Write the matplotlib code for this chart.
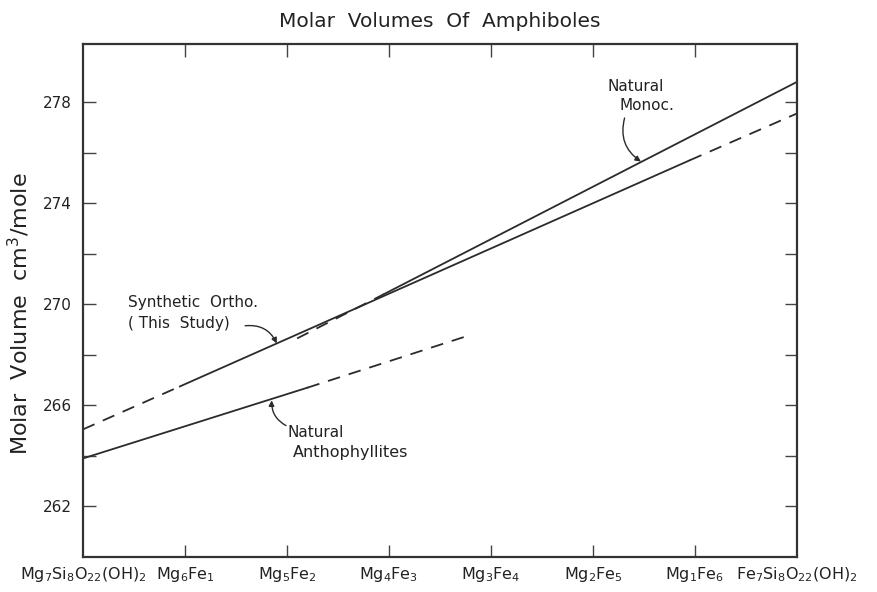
import matplotlib
matplotlib.use("Agg")
import matplotlib.pyplot as plt

# ---- data ----
composition = [0, 1, 2, 3, 4, 5, 6, 7]
xtick_labels = [r'Mg$_7$Si$_8$O$_{22}$(OH)$_2$', r'Mg$_6$Fe$_1$', r'Mg$_5$Fe$_2$',
                r'Mg$_4$Fe$_3$', r'Mg$_3$Fe$_4$', r'Mg$_2$Fe$_5$', r'Mg$_1$Fe$_6$',
                r'Fe$_7$Si$_8$O$_{22}$(OH)$_2$']
ytick_major = [262, 266, 270, 274, 278]
ytick_all = [262, 264, 266, 268, 270, 272, 274, 276, 278]

# Synthetic ortho (this study): dashed / solid / dashed
synth_dash1_x = [0.0, 0.95]
synth_dash1_y = [265.05, 266.75]
synth_solid_x = [0.95, 5.95]
synth_solid_y = [266.75, 275.7]
synth_dash2_x = [5.95, 7.0]
synth_dash2_y = [275.7, 277.55]

# Natural monoclinic
monoc_dash_x = [2.1, 2.95]
monoc_dash_y = [268.65, 270.4]
monoc_solid_x = [2.95, 7.0]
monoc_solid_y = [270.4, 278.8]

# Natural anthophyllites
antho_solid_x = [0.0, 2.2]
antho_solid_y = [263.9, 266.7]
antho_dash_x = [2.2, 3.77]
antho_dash_y = [266.7, 268.75]

# ---- figure ----
fig = plt.figure(figsize=(8.78, 5.92), dpi=100)
ax = fig.add_axes([0.0945, 0.0591, 0.8132, 0.8666])

lc = '#2b2b2b'
lw = 1.3
dash = (0, (7, 5))

ax.plot(synth_dash1_x, synth_dash1_y, color=lc, lw=lw, ls=dash)
ax.plot(synth_solid_x, synth_solid_y, color=lc, lw=lw)
ax.plot(synth_dash2_x, synth_dash2_y, color=lc, lw=lw, ls=dash)
ax.plot(monoc_dash_x, monoc_dash_y, color=lc, lw=lw, ls=dash)
ax.plot(monoc_solid_x, monoc_solid_y, color=lc, lw=lw)
ax.plot(antho_solid_x, antho_solid_y, color=lc, lw=lw)
ax.plot(antho_dash_x, antho_dash_y, color=lc, lw=lw, ls=dash)

ax.set_xlim(0, 7)
ax.set_ylim(260, 280.3)

ax.set_xticks(composition)
ax.set_xticklabels(xtick_labels, fontsize=11.5, color='#222222')
ax.set_yticks(ytick_all)
ax.set_yticklabels([str(v) if v in ytick_major else '' for v in ytick_all],
                   fontsize=11, color='#222222')
ax.tick_params(axis='both', direction='in', length=9, width=1.0, color='#444444',
               top=True, right=True)
ax.tick_params(axis='x', pad=6)
ax.tick_params(axis='y', pad=8)
# hide end ticks on x (at spines)
for t in (ax.xaxis.get_major_ticks()[0], ax.xaxis.get_major_ticks()[-1]):
    t.tick1line.set_visible(False)
    t.tick2line.set_visible(False)

for s in ax.spines.values():
    s.set_linewidth(1.6)
    s.set_color('#333333')

ax.set_title('Molar  Volumes  Of  Amphiboles', fontsize=14.5, color='#222222', pad=12)
ax.set_ylabel('Molar  Volume  cm$^3$/mole', fontsize=16, color='#222222')
ax.yaxis.set_label_coords(-0.072, 0.475)

tc = '#222222'
fs = 11
ax.text(5.42, 278.63, 'Natural', fontsize=fs, color=tc, ha='center', va='center')
ax.text(5.53, 277.88, 'Monoc.', fontsize=fs, color=tc, ha='center', va='center')
ax.text(0.44, 270.08, 'Synthetic  Ortho.', fontsize=fs, color=tc, ha='left', va='center')
ax.text(0.44, 269.25, '( This  Study)', fontsize=fs, color=tc, ha='left', va='center')
ax.text(2.01, 264.93, 'Natural', fontsize=fs, color=tc, ha='left', va='center')
ax.text(2.06, 264.14, 'Anthophyllites', fontsize=fs + 0.5, color=tc, ha='left', va='center')

arrowprops = dict(arrowstyle='-|>', color=lc, lw=1.0, mutation_scale=8, shrinkA=0, shrinkB=0)
ax.annotate('', xy=(5.47, 275.65), xytext=(5.31, 277.37),
            arrowprops=dict(arrowprops, connectionstyle='arc3,rad=0.35'))
ax.annotate('', xy=(1.9, 268.45), xytext=(1.59, 269.15),
            arrowprops=dict(arrowprops, connectionstyle='arc3,rad=-0.35'))
ax.annotate('', xy=(1.85, 266.2), xytext=(1.99, 265.2),
            arrowprops=dict(arrowprops, connectionstyle='arc3,rad=-0.3'))

fig.savefig('out.png', dpi=100)
